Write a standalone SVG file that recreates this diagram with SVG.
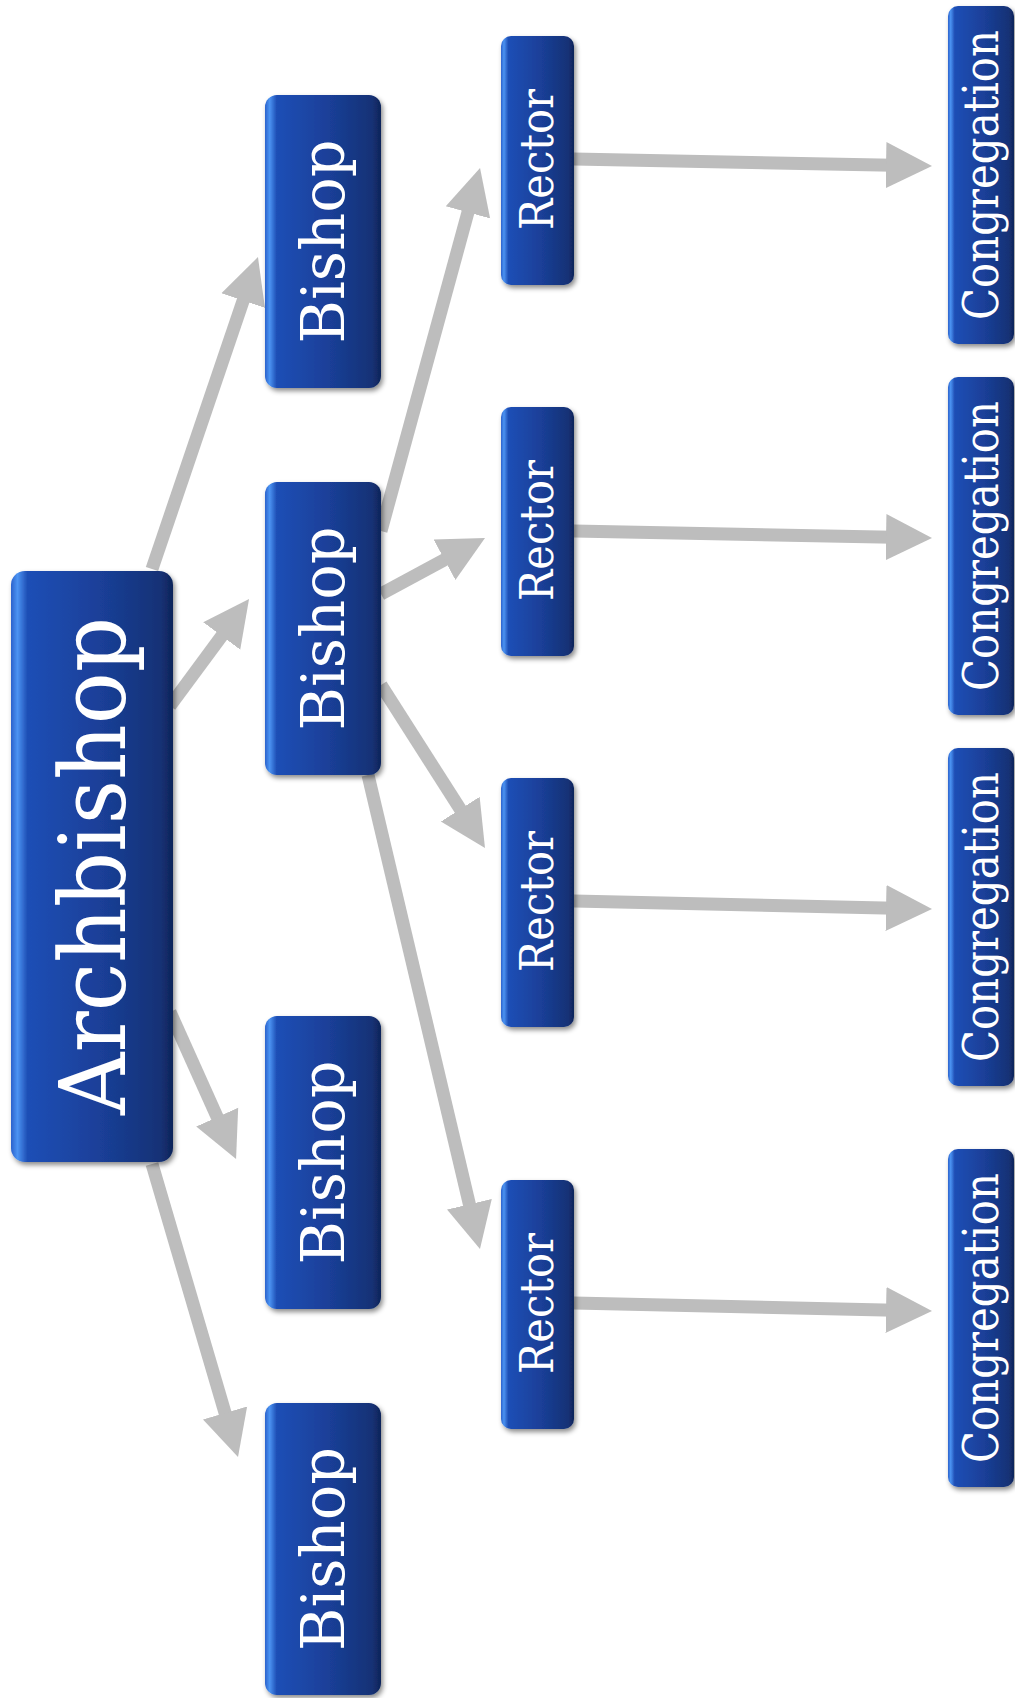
<svg xmlns="http://www.w3.org/2000/svg" width="1015" height="1698" viewBox="0 0 1015 1698">
<defs>
<linearGradient id="blue" x1="0" y1="0" x2="1" y2="0">
<stop offset="0" stop-color="#2a62cc"/>
<stop offset="0.04" stop-color="#4b93f2"/>
<stop offset="0.1" stop-color="#1f4fb6"/>
<stop offset="0.55" stop-color="#1a3f98"/>
<stop offset="0.92" stop-color="#153276"/>
<stop offset="1" stop-color="#0f2459"/>
</linearGradient>
<filter id="sh" x="-20%" y="-20%" width="140%" height="140%">
<feDropShadow dx="2" dy="3" stdDeviation="2.5" flood-color="#000" flood-opacity="0.45"/>
</filter>
<marker id="ah" markerUnits="userSpaceOnUse" viewBox="0 -24 46 48" refX="20" refY="0" markerWidth="46" markerHeight="48" orient="auto">
<path d="M0,-23 L46,0 L0,23 z" fill="#bdbdbd"/>
</marker>
</defs>
<style>
.box{fill:url(#blue);filter:url(#sh);}
.t{fill:#fff;font-family:"DejaVu Serif","Liberation Serif",serif;text-anchor:middle;}
.c{stroke:#bdbdbd;stroke-width:13;fill:none;marker-end:url(#ah);}
</style>
<rect width="1015" height="1698" fill="#fff"/>
<g id="connectors">
<line class="c" x1="152" y1="569" x2="249.6" y2="281.6"/>
<line class="c" x1="170" y1="706" x2="233.6" y2="619.9"/>
<line class="c" x1="170" y1="1012" x2="225.4" y2="1135.3"/>
<line class="c" x1="152" y1="1164" x2="230.7" y2="1432.1"/>
<line class="c" x1="381" y1="531" x2="473.2" y2="193.1"/>
<line class="c" x1="381" y1="594" x2="462.1" y2="550.3"/>
<line class="c" x1="381" y1="685" x2="471" y2="826.1"/>
<line class="c" x1="368" y1="775" x2="474" y2="1223.7"/>
<line class="c" x1="574" y1="159" x2="906" y2="165.5"/>
<line class="c" x1="574" y1="531" x2="906" y2="537.5"/>
<line class="c" x1="574" y1="901" x2="906" y2="908.5"/>
<line class="c" x1="574" y1="1303" x2="906" y2="1310.5"/>
</g>
<g id="archbishop"><rect class="box" x="11" y="571" width="162" height="591" rx="14"/><text class="t" font-size="92" textLength="498" lengthAdjust="spacingAndGlyphs" transform="translate(125,866) rotate(-90)">Archbishop</text></g>
<g id="bishop1"><rect class="box" x="265" y="95" width="116" height="293" rx="12"/><text class="t" font-size="60" textLength="204" lengthAdjust="spacingAndGlyphs" transform="translate(344,241.5) rotate(-90)">Bishop</text></g>
<g id="bishop2"><rect class="box" x="265" y="482" width="116" height="293" rx="12"/><text class="t" font-size="60" textLength="204" lengthAdjust="spacingAndGlyphs" transform="translate(344,628.5) rotate(-90)">Bishop</text></g>
<g id="bishop3"><rect class="box" x="265" y="1016" width="116" height="293" rx="12"/><text class="t" font-size="60" textLength="204" lengthAdjust="spacingAndGlyphs" transform="translate(344,1162.5) rotate(-90)">Bishop</text></g>
<g id="bishop4"><rect class="box" x="265" y="1403" width="116" height="292" rx="12"/><text class="t" font-size="60" textLength="204" lengthAdjust="spacingAndGlyphs" transform="translate(344,1549) rotate(-90)">Bishop</text></g>
<g id="rector1"><rect class="box" x="501" y="36" width="73" height="249" rx="10"/><text class="t" font-size="46" textLength="141" lengthAdjust="spacingAndGlyphs" transform="translate(553,159.5) rotate(-90)">Rector</text></g>
<g id="rector2"><rect class="box" x="501" y="407" width="73" height="249" rx="10"/><text class="t" font-size="46" textLength="141" lengthAdjust="spacingAndGlyphs" transform="translate(553,530.5) rotate(-90)">Rector</text></g>
<g id="rector3"><rect class="box" x="501" y="778" width="73" height="249" rx="10"/><text class="t" font-size="46" textLength="141" lengthAdjust="spacingAndGlyphs" transform="translate(553,901.5) rotate(-90)">Rector</text></g>
<g id="rector4"><rect class="box" x="501" y="1180" width="73" height="249" rx="10"/><text class="t" font-size="46" textLength="141" lengthAdjust="spacingAndGlyphs" transform="translate(553,1303.5) rotate(-90)">Rector</text></g>
<g id="congregation1"><rect class="box" x="948" y="6" width="66" height="338" rx="10"/><text class="t" font-size="49" textLength="290" lengthAdjust="spacingAndGlyphs" transform="translate(998,175) rotate(-90)">Congregation</text></g>
<g id="congregation2"><rect class="box" x="948" y="377" width="66" height="338" rx="10"/><text class="t" font-size="49" textLength="290" lengthAdjust="spacingAndGlyphs" transform="translate(998,546) rotate(-90)">Congregation</text></g>
<g id="congregation3"><rect class="box" x="948" y="748" width="66" height="338" rx="10"/><text class="t" font-size="49" textLength="290" lengthAdjust="spacingAndGlyphs" transform="translate(998,917) rotate(-90)">Congregation</text></g>
<g id="congregation4"><rect class="box" x="948" y="1149" width="66" height="338" rx="10"/><text class="t" font-size="49" textLength="290" lengthAdjust="spacingAndGlyphs" transform="translate(998,1318) rotate(-90)">Congregation</text></g>
</svg>
